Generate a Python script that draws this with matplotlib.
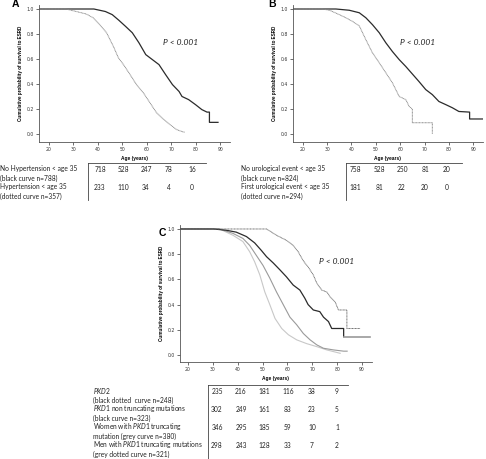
import matplotlib
matplotlib.use('Agg')
import matplotlib.pyplot as plt
from matplotlib.lines import Line2D

plt.rcParams['font.family'] = ['Lato', 'DejaVu Sans']
plt.rcParams['mathtext.fontset'] = 'custom'
plt.rcParams['mathtext.it'] = 'Lato:italic'
plt.rcParams['mathtext.rm'] = 'Lato'

# ---- panel A: hypertension ----
age_a_black = [16, 38.4, 43.1, 45.9, 48.6, 51.4, 54.1, 56.8, 59.6, 62.3, 65, 67.7, 70.5, 73.2, 74.4, 77.1, 79.9, 82.5, 84.6, 85.6, 85.6, 89.1]
surv_a_black = [1, 1, 0.98, 0.955, 0.91, 0.86, 0.81, 0.73, 0.635, 0.595, 0.555, 0.475, 0.395, 0.34, 0.30, 0.275, 0.235, 0.195, 0.175, 0.175, 0.093, 0.093]
age_a_dot = [16, 27, 31.2, 35.3, 38.1, 40.8, 43.6, 46.4, 48.4, 50.5, 53.2, 55.8, 58.6, 61.3, 64, 66.7, 69.5, 72.2, 74.3, 75.6]
surv_a_dot = [1, 1, 0.98, 0.96, 0.93, 0.875, 0.81, 0.70, 0.61, 0.555, 0.475, 0.395, 0.33, 0.25, 0.17, 0.12, 0.075, 0.035, 0.02, 0.013]

# ---- panel B: urological event ----
age_b_black = [16, 33.6, 39.1, 43.2, 45.9, 48.6, 51.4, 54.1, 56.8, 59.6, 62.3, 65, 67.7, 70.5, 73.2, 75.9, 78.7, 81.4, 84.1, 88.5, 88.5, 93.8]
surv_b_black = [1, 1, 0.99, 0.97, 0.93, 0.875, 0.81, 0.73, 0.66, 0.595, 0.54, 0.48, 0.42, 0.355, 0.315, 0.26, 0.235, 0.21, 0.18, 0.175, 0.12, 0.12]
age_b_dot = [16, 28, 31, 35, 37.7, 40.5, 43.2, 45.9, 48.6, 51.4, 54.1, 56.8, 59.6, 62.3, 63.7, 65, 65, 73.2, 73.2]
surv_b_dot = [1, 1, 0.99, 0.955, 0.93, 0.90, 0.865, 0.755, 0.65, 0.57, 0.49, 0.41, 0.30, 0.275, 0.22, 0.20, 0.09, 0.09, 0.0]

# ---- panel C: genotype ----
age_c_pkd2 = [16.8, 51.6, 55.6, 59.6, 62.3, 64.3, 65.7, 67, 68.3, 70.4, 71.8, 73.8, 75.8, 77.2, 79.2, 80.5, 83.9, 83.9, 89.2]
surv_c_pkd2 = [1, 1, 0.95, 0.91, 0.87, 0.82, 0.77, 0.73, 0.70, 0.635, 0.57, 0.515, 0.50, 0.46, 0.42, 0.357, 0.357, 0.21, 0.21]
age_c_nontr = [16.8, 30.3, 35.4, 39.4, 43.5, 46.8, 49.5, 51.6, 54.3, 57, 59.6, 62.3, 65, 67, 68.3, 70.4, 73, 74.5, 76.5, 77.8, 82.6, 82.6, 93.3]
surv_c_nontr = [1, 1, 0.99, 0.975, 0.94, 0.89, 0.83, 0.78, 0.73, 0.675, 0.62, 0.555, 0.515, 0.45, 0.40, 0.357, 0.344, 0.30, 0.265, 0.21, 0.21, 0.145, 0.145]
age_c_women = [16.8, 32.7, 38.1, 42.1, 44.8, 47.5, 50.2, 52.9, 55.6, 58.3, 61, 63.7, 66.4, 69.1, 71.8, 74.5, 78.5, 82.6, 84]
surv_c_women = [1, 1, 0.965, 0.925, 0.87, 0.79, 0.71, 0.61, 0.50, 0.40, 0.30, 0.24, 0.17, 0.12, 0.08, 0.053, 0.04, 0.03, 0.03]
age_c_men = [16.8, 32.7, 38.1, 42.1, 44.8, 46.8, 48.9, 50.9, 52.9, 55, 57.7, 60.4, 63.7, 67.7, 71.8, 75.8, 81.2]
surv_c_men = [1, 1, 0.95, 0.90, 0.82, 0.74, 0.635, 0.50, 0.40, 0.29, 0.21, 0.16, 0.12, 0.09, 0.066, 0.04, 0.013]

# numbers at risk
labels_a = ["No Hypertension < age 35", "(black curve n=788)", "Hypertension < age 35", "(dotted curve n=357)"]
risk_a = [[718, 528, 247, 78, 16], [233, 110, 34, 4, 0]]
labels_b = ["No urological event < age 35", "(black curve n=824)", "First urological event < age 35", "(dotted curve n=294)"]
risk_b = [[758, 528, 250, 81, 20], [181, 81, 22, 20, 0]]
labels_c = [r"$\mathit{PKD2}$", "(black dotted  curve n=248)",
            r"$\mathit{PKD1}$ non truncating mutations", "(black curve n=323)",
            r"Women with $\mathit{PKD1}$ truncating", "mutation (grey curve n=380)",
            r"Men with $\mathit{PKD1}$ truncating mutations", "(grey dotted curve n=321)"]
risk_c = [[235, 216, 181, 116, 38, 9], [302, 249, 161, 83, 23, 5],
          [346, 295, 185, 59, 10, 1], [298, 243, 128, 33, 7, 2]]

xticks = [20, 30, 40, 50, 60, 70, 80, 90]
yticks = [0.0, 0.2, 0.4, 0.6, 0.8, 1.0]

W, H = 486, 459
fig = plt.figure(figsize=(W / 100, H / 100), dpi=100)


def fx(x):
    return x / W


def fy(y):
    return 1 - y / H


def km_axes(left, top, right, bottom, xlim, ylim):
    ax = fig.add_axes([fx(left), fy(bottom), (right - left) / W, (bottom - top) / H])
    ax.set_xlim(*xlim)
    ax.set_ylim(*ylim)
    for s in ['top', 'right']:
        ax.spines[s].set_visible(False)
    for s in ['left', 'bottom']:
        ax.spines[s].set_linewidth(0.6)
        ax.spines[s].set_color('#555555')
    ax.set_xticks(xticks)
    ax.set_yticks(yticks)
    ax.set_xticklabels([str(t) for t in xticks], family='DejaVu Sans')
    ax.set_yticklabels(['%.1f' % t for t in yticks], family='DejaVu Sans')
    ax.tick_params(labelsize=3.3, length=2, width=0.5, pad=1.5, colors='#333333')
    ax.set_xlabel('Age (years)', fontsize=3.5, fontweight='bold', family='Liberation Sans', labelpad=3)
    ax.set_ylabel('Cumulative probability of survival to ESRD', fontsize=3.3, fontweight='bold',
                  family='Liberation Sans', labelpad=3)
    return ax


def pval(ax, x, y):
    ax.text(x, y, 'P < 0.001', fontsize=6, style='italic', va='center', ha='left', color='#222222')


def risk_table(labels, risk, lab_x, lab_y0, num_x, num_y0, vline_x, line_top, line_bottom, hline_right):
    for i, lab in enumerate(labels):
        fig.text(fx(lab_x), fy(lab_y0 + 9 * i), lab, fontsize=4.8, va='center', ha='left', color='#222222')
    for r, row in enumerate(risk):
        for c, v in enumerate(row):
            fig.text(fx(num_x[c]), fy(num_y0 + 18 * r), str(v), fontsize=4.8, va='center', ha='center',
                     color='#222222')
    fig.add_artist(Line2D([fx(vline_x), fx(vline_x)], [fy(line_top), fy(line_bottom)],
                          transform=fig.transFigure, color='#444444', lw=0.6))
    fig.add_artist(Line2D([fx(vline_x), fx(hline_right)], [fy(line_top), fy(line_top)],
                          transform=fig.transFigure, color='#444444', lw=0.6))


# panel A
axA = km_axes(39, 5.25, 230, 142.1, (16, 94), (-0.065, 1.03))
axA.plot(age_a_black, surv_a_black, color='#2b2b2b', lw=0.9)
axA.plot(age_a_dot, surv_a_dot, color='#8a8a8a', lw=0.7, ls=(0, (1, 0.5)))
pval(axA, 66.7, 0.73)
fig.text(fx(12), fy(4), 'A', fontsize=7.5, fontweight='bold', family='Liberation Sans', va='center')
risk_table(labels_a, risk_a, 0, 169, [100, 123, 146, 169, 192], 169, 88, 163, 200, 206)

# panel B
axB = km_axes(293, 5.25, 483, 142.1, (16, 94), (-0.065, 1.03))
axB.plot(age_b_black, surv_b_black, color='#2b2b2b', lw=0.9)
axB.plot(age_b_dot, surv_b_dot, color='#8a8a8a', lw=0.7, ls=(0, (1, 0.5)))
pval(axB, 60, 0.73)
fig.text(fx(268), fy(4), 'B', fontsize=7.5, fontweight='bold', family='Liberation Sans', va='center')
risk_table(labels_b, risk_b, 241, 169, [355, 379, 402, 425, 447], 169, 346, 163, 200, 462)

# panel C
axC = km_axes(180, 225.2, 372, 362, (16.8, 94), (-0.056, 1.03))
axC.plot(age_c_men, surv_c_men, color='#c8c8c8', lw=0.8)
axC.plot(age_c_women, surv_c_women, color='#9a9a9a', lw=0.8)
axC.plot(age_c_nontr[:-1], surv_c_nontr[:-1], color='#2b2b2b', lw=0.9)
axC.plot(age_c_nontr[-2:], surv_c_nontr[-2:], color='#9a9a9a', lw=1.2)
axC.plot(age_c_pkd2, surv_c_pkd2, color='#6e6e6e', lw=0.7, ls=(0, (1, 0.5)))
pval(axC, 72.6, 0.74)
fig.text(fx(159), fy(233), 'C', fontsize=7.5, fontweight='bold', family='Liberation Sans', va='center')
risk_table(labels_c, risk_c, 93, 391, [217, 241, 264, 288, 312, 337], 392, 208, 385, 459, 348)

fig.savefig('out.png', dpi=100, facecolor='white')
